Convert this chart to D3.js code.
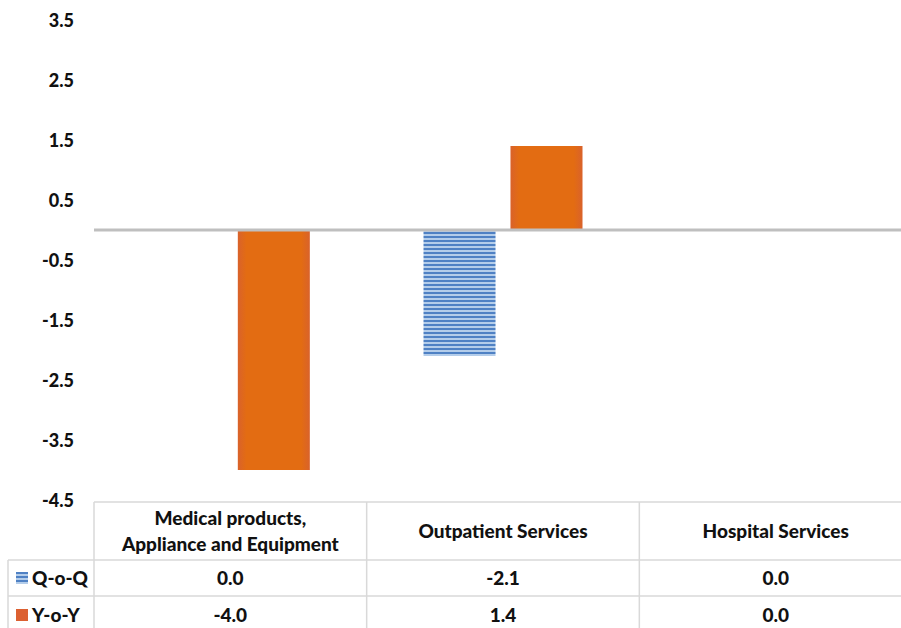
<!DOCTYPE html>
<html lang="en">
<head>
<meta charset="utf-8">
<title>Health price changes</title>
<script src="https://d3js.org/d3.v7.min.js"></script>
<style>
  body { margin: 0; background: #fff; }
  svg text { font-family: Lato, "Open Sans", sans-serif; font-weight: 900; fill: #111; }
</style>
</head>
<body>
<div id="chart"></div>
<script>
// data
var categories = ["Medical products,\nAppliance and Equipment", "Outpatient Services", "Hospital Services"];
var seriesNames = ["Q-o-Q", "Y-o-Y"];
var qoq = [0.0, -2.1, 0.0];
var yoy = [-4.0, 1.4, 0.0];
var yTicks = [3.5, 2.5, 1.5, 0.5, -0.5, -1.5, -2.5, -3.5, -4.5];

var w = 901, h = 628;
var left = 94, right = 912;

// hyphen instead of unicode minus, like the original
var fmt = function (v) { return d3.format(".1f")(v).replace("\u2212", "-"); };

var svg = d3.select("#chart").append("svg")
  .attr("width", w)
  .attr("height", h);

var defs = svg.append("defs");

// horizontal stripes for Q-o-Q
var pat = defs.append("pattern")
  .attr("id", "stripes")
  .attr("patternUnits", "userSpaceOnUse")
  .attr("width", 8).attr("height", 4);
pat.append("rect").attr("width", 8).attr("height", 4).attr("fill", "#b4cdea");
pat.append("rect").attr("width", 8).attr("height", 2).attr("fill", "#4f81c4");

// orange bar shading
var grad = defs.append("linearGradient").attr("id", "orange")
  .attr("x1", "0%").attr("x2", "100%").attr("y1", "0%").attr("y2", "0%");
grad.append("stop").attr("offset", "0%").attr("stop-color", "#d9622b");
grad.append("stop").attr("offset", "12%").attr("stop-color", "#e36c12");
grad.append("stop").attr("offset", "88%").attr("stop-color", "#e36c12");
grad.append("stop").attr("offset", "100%").attr("stop-color", "#d9622b");

var y = d3.scaleLinear().domain([-4.5, 3.5]).range([500, 20]);

var x = d3.scaleBand().domain(d3.range(categories.length)).range([left, right]);
var x1 = d3.scaleBand().domain(seriesNames).range([x.bandwidth() / 2 - 79.5, x.bandwidth() / 2 + 79.5]).paddingInner(0.172);

// y axis labels (no line, no ticks)
var yAxis = d3.axisLeft(y).tickValues(yTicks).tickSize(0).tickPadding(0).tickFormat(fmt);
var ya = svg.append("g").attr("transform", "translate(74,0)").call(yAxis);
ya.select(".domain").remove();
ya.selectAll("text").style("font-size", "18px").attr("dy", "0.35em");

// bars
var groups = svg.append("g").selectAll("g")
  .data(categories.map(function (c, i) { return { i: i, vals: [qoq[i], yoy[i]] }; }))
  .join("g")
  .attr("transform", function (d) { return "translate(" + x(d.i) + ",0)"; });

groups.selectAll("rect")
  .data(function (d) { return d.vals.map(function (v, k) { return { k: k, v: v }; }); })
  .join("rect")
  .attr("x", function (d) { return x1(seriesNames[d.k]); })
  .attr("width", x1.bandwidth())
  .attr("y", function (d) { return y(Math.max(0, d.v)); })
  .attr("height", function (d) { return Math.abs(y(d.v) - y(0)); })
  .attr("fill", function (d) { return d.k === 0 ? "url(#stripes)" : "url(#orange)"; });

// zero line
svg.append("line")
  .attr("x1", left).attr("x2", w)
  .attr("y1", y(0)).attr("y2", y(0))
  .attr("stroke", "#bfbfbf").attr("stroke-width", 3);

// data table
var rowY = [502, 560, 596, 640];
var tbl = svg.append("g").attr("stroke", "#d9d9d9").attr("stroke-width", 1.5);
tbl.append("line").attr("x1", left).attr("x2", w).attr("y1", rowY[0]).attr("y2", rowY[0]);
tbl.append("line").attr("x1", 8).attr("x2", w).attr("y1", rowY[1]).attr("y2", rowY[1]);
tbl.append("line").attr("x1", 8).attr("x2", w).attr("y1", rowY[2]).attr("y2", rowY[2]);
tbl.append("line").attr("x1", 8).attr("x2", 8).attr("y1", rowY[1]).attr("y2", h);
tbl.selectAll(".vl").data(d3.range(categories.length + 1)).join("line")
  .attr("x1", function (d) { return left + d * x.bandwidth(); })
  .attr("x2", function (d) { return left + d * x.bandwidth(); })
  .attr("y1", rowY[0]).attr("y2", h);

// header text
var head = svg.append("g").selectAll("text").data(categories).join("text")
  .attr("text-anchor", "middle")
  .style("font-size", "19px")
  .attr("transform", function (d, i) { return "translate(" + (x(i) + x.bandwidth() / 2) + ",0)"; });
head.each(function (d) {
  var lines = d.split("\n");
  var t = d3.select(this);
  var y0 = 531 - (lines.length - 1) * 13;
  lines.forEach(function (l, j) {
    t.append("tspan").attr("x", 0).attr("y", y0 + j * 26).attr("dy", "0.35em").text(l);
  });
});

// value rows
[qoq, yoy].forEach(function (vals, r) {
  var cy = (rowY[r + 1] + rowY[r + 2]) / 2 - (r === 1 ? 3 : 0);
  svg.append("g").selectAll("text").data(vals).join("text")
    .attr("x", function (d, i) { return x(i) + x.bandwidth() / 2; })
    .attr("y", cy).attr("dy", "0.35em")
    .attr("text-anchor", "middle")
    .style("font-size", "19px")
    .text(fmt);
  svg.append("rect")
    .attr("x", 16).attr("y", cy - 6).attr("width", 12).attr("height", 12)
    .attr("fill", r === 0 ? "url(#stripes)" : "#dc6031");
  svg.append("text")
    .attr("x", 32).attr("y", cy).attr("dy", "0.35em")
    .style("font-size", "19px")
    .text(seriesNames[r]);
});
</script>
</body>
</html>
